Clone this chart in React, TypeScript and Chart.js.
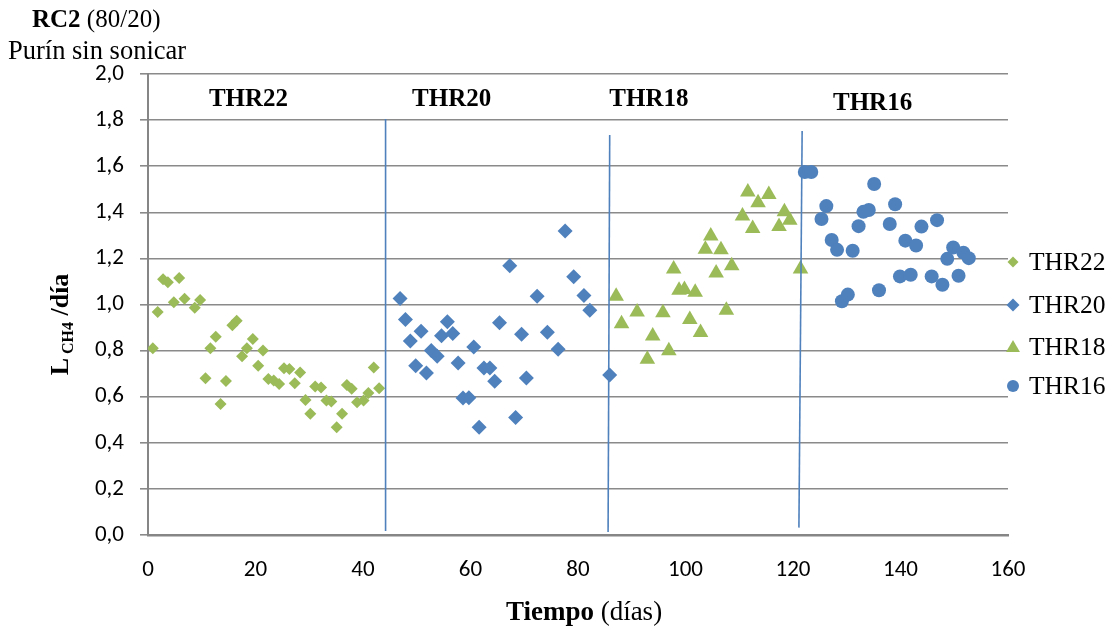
import React, { useEffect, useRef } from 'react';
import { Chart, registerables } from 'chart.js';

Chart.register(...registerables);

// ---- Data ----
const thr22X = [0.9, 1.8, 2.8, 3.7, 4.8, 5.8, 6.8, 8.7, 9.7, 10.7, 11.6, 12.6, 13.5, 14.5, 15.7, 16.5, 17.5, 18.4, 19.5, 20.5, 21.4, 22.4, 23.4, 24.4, 25.3, 26.3, 27.3, 28.3, 29.3, 30.2, 31.1, 32.2, 33.2, 34.1, 35.1, 36.1, 37.0, 37.9, 38.9, 40.1, 41.0, 42.0, 43.0];
const thr22Y = [0.81, 0.967, 1.11, 1.096, 1.01, 1.115, 1.025, 0.986, 1.02, 0.68, 0.81, 0.86, 0.568, 0.668, 0.91, 0.93, 0.775, 0.81, 0.85, 0.734, 0.80, 0.677, 0.67, 0.655, 0.723, 0.72, 0.658, 0.705, 0.586, 0.526, 0.644, 0.64, 0.583, 0.579, 0.468, 0.526, 0.651, 0.634, 0.576, 0.583, 0.616, 0.727, 0.637];

const thr20X = [46.9, 47.9, 48.8, 49.8, 50.8, 51.8, 52.7, 53.8, 54.6, 55.7, 56.7, 57.7, 58.6, 59.7, 60.6, 61.6, 62.5, 63.6, 64.5, 65.4, 67.3, 68.4, 69.5, 70.4, 72.4, 74.3, 76.3, 77.6, 79.2, 81.1, 82.2, 85.9];
const thr20Y = [1.026, 0.935, 0.842, 0.734, 0.884, 0.703, 0.80, 0.775, 0.864, 0.925, 0.874, 0.746, 0.594, 0.595, 0.816, 0.468, 0.724, 0.724, 0.667, 0.921, 1.168, 0.51, 0.871, 0.681, 1.036, 0.88, 0.806, 1.319, 1.12, 1.039, 0.975, 0.694];

const thr18X = [87.1, 88.1, 91.0, 92.9, 93.9, 95.8, 96.9, 97.8, 98.8, 99.8, 100.8, 101.8, 102.8, 103.7, 104.7, 105.7, 106.6, 107.6, 108.6, 110.6, 111.6, 112.5, 113.5, 115.5, 117.4, 118.4, 119.4, 121.4];
const thr18Y = [1.036, 0.917, 0.967, 0.763, 0.863, 0.964, 0.799, 1.154, 1.062, 1.065, 0.935, 1.053, 0.878, 1.24, 1.297, 1.137, 1.237, 0.975, 1.168, 1.384, 1.488, 1.33, 1.441, 1.477, 1.338, 1.402, 1.366, 1.154];

const thr16X = [122.2, 123.4, 125.3, 126.2, 127.2, 128.2, 129.1, 130.2, 131.1, 132.2, 133.1, 134.1, 135.1, 136.0, 138.0, 139.0, 139.9, 140.9, 141.9, 142.9, 143.9, 145.8, 146.8, 147.8, 148.7, 149.8, 150.8, 151.7, 152.7];
const thr16Y = [1.575, 1.575, 1.371, 1.427, 1.28, 1.237, 1.014, 1.043, 1.233, 1.34, 1.402, 1.41, 1.523, 1.062, 1.349, 1.435, 1.122, 1.277, 1.129, 1.256, 1.338, 1.122, 1.366, 1.086, 1.198, 1.247, 1.125, 1.225, 1.201];

// Phase separator lines: [x top, y top, x bottom, y bottom]
const separator1 = [44.2, 1.805, 44.2, 0.017];
const separator2 = [85.9, 1.735, 85.6, 0.013];
const separator3 = [121.7, 1.753, 121.1, 0.032];

const seriesNames = ['THR22', 'THR20', 'THR18', 'THR16'];
const phaseLabels = ['THR22', 'THR20', 'THR18', 'THR16'];
const phaseLabelX = [18.7, 56.5, 93.2, 134.8];

const xMin = 0, xMax = 160, xStep = 20;
const yMin = 0, yMax = 2, yStep = 0.2;

const GREEN = '#9BBB59';
const BLUE = '#4F81BD';
const serif = "'Liberation Serif', 'Times New Roman', Times, serif";
const sans = "Carlito, Calibri, 'Liberation Sans', Arial, sans-serif";

const zip = (xs: number[], ys: number[]) => xs.map((x, i) => ({ x, y: ys[i] }));
const sep = (s: number[]) => [{ x: s[0], y: s[1] }, { x: s[2], y: s[3] }];

type Run = { text: string; font: string; dy?: number };
function runsWidth(ctx: CanvasRenderingContext2D, runs: Run[]) {
  let w = 0;
  for (const r of runs) { ctx.font = r.font; w += ctx.measureText(r.text).width; }
  return w;
}
function drawRuns(ctx: CanvasRenderingContext2D, runs: Run[], x: number, y: number) {
  let cx = x;
  for (const r of runs) {
    ctx.font = r.font;
    ctx.fillText(r.text, cx, y + (r.dy || 0));
    cx += ctx.measureText(r.text).width;
  }
}

function marker(ctx: CanvasRenderingContext2D, style: string, x: number, y: number, r: number, color: string) {
  ctx.fillStyle = color;
  ctx.beginPath();
  if (style === 'rectRot') {
    ctx.moveTo(x, y - r); ctx.lineTo(x + r, y); ctx.lineTo(x, y + r); ctx.lineTo(x - r, y); ctx.closePath();
  } else if (style === 'triangle') {
    ctx.moveTo(x, y - r);
    ctx.lineTo(x + r * Math.sin(Math.PI / 3), y + r / 2);
    ctx.lineTo(x - r * Math.sin(Math.PI / 3), y + r / 2);
    ctx.closePath();
  } else {
    ctx.arc(x, y, r, 0, Math.PI * 2);
  }
  ctx.fill();
}

const textPlugin = {
  id: 'customText',
  afterDraw(chart: any) {
    const ctx: CanvasRenderingContext2D = chart.ctx;
    const xs = chart.scales.x;
    const ys = chart.scales.y;
    ctx.save();
    ctx.fillStyle = '#000';
    ctx.textBaseline = 'alphabetic';
    ctx.textAlign = 'left';

    // Header
    drawRuns(ctx, [
      { text: 'RC2', font: `bold 25px ${serif}` },
      { text: ' (80/20)', font: `25px ${serif}` },
    ], 32, 27);
    ctx.font = `26.5px ${serif}`;
    ctx.fillText('Purín sin sonicar', 8, 59);

    // Phase labels
    ctx.font = `bold 25px ${serif}`;
    ctx.textAlign = 'center';
    phaseLabels.forEach((t, i) => {
      const px = xs.getPixelForValue(phaseLabelX[i]);
      const py = i === 3 ? 110 : 106;
      ctx.fillText(t, px, py);
    });

    // Legend
    const legendStyles = ['rectRot', 'rectRot', 'triangle', 'circle'];
    const legendColors = [GREEN, BLUE, GREEN, BLUE];
    const legendR = [5.5, 6.5, 8, 6];
    const legendY = [262, 305, 347, 386];
    seriesNames.forEach((n, i) => {
      marker(ctx, legendStyles[i], 1013, legendY[i] + (legendStyles[i] === 'triangle' ? 1 : 0), legendR[i], legendColors[i]);
      ctx.fillStyle = '#000';
      ctx.font = `25.5px ${serif}`;
      ctx.textAlign = 'left';
      ctx.textBaseline = 'middle';
      ctx.fillText(n, 1029, legendY[i] + 1);
    });
    ctx.textBaseline = 'alphabetic';

    // X title
    const xRuns: Run[] = [
      { text: 'Tiempo', font: `bold 27px ${serif}` },
      { text: ' (días)', font: `27px ${serif}` },
    ];
    const xw = runsWidth(ctx, xRuns);
    const xc = (chart.chartArea.left + chart.chartArea.right) / 2 + 6;
    drawRuns(ctx, xRuns, xc - xw / 2, 620);

    // Y title (rotated)
    const yRuns: Run[] = [
      { text: 'L', font: `bold 26px ${serif}` },
      { text: ' CH4', font: `bold 16px ${serif}`, dy: 5 },
      { text: ' /día', font: `bold 26px ${serif}` },
    ];
    const yw = runsWidth(ctx, yRuns);
    const yc = (ys.top + ys.bottom) / 2 + 20;
    ctx.translate(68, yc);
    ctx.rotate(-Math.PI / 2);
    drawRuns(ctx, yRuns, -yw / 2, 0);
    ctx.restore();
  },
};

export default function App() {
  const ref = useRef<HTMLCanvasElement | null>(null);
  useEffect(() => {
    if (!ref.current) return;
    const lineDs = (s: number[]) => ({
      type: 'line' as const,
      label: '',
      data: sep(s),
      borderColor: BLUE,
      borderWidth: 1.6,
      pointRadius: 0,
      showLine: true,
      fill: false,
    });
    const chart = new Chart(ref.current, {
      type: 'scatter',
      data: {
        datasets: [
          lineDs(separator1) as any,
          lineDs(separator2) as any,
          lineDs(separator3) as any,
          { label: seriesNames[0], data: zip(thr22X, thr22Y), pointStyle: 'rectRot', pointRadius: 6, backgroundColor: GREEN, borderColor: GREEN, borderWidth: 0 },
          { label: seriesNames[1], data: zip(thr20X, thr20Y), pointStyle: 'rectRot', pointRadius: 7.5, backgroundColor: BLUE, borderColor: BLUE, borderWidth: 0 },
          { label: seriesNames[2], data: zip(thr18X, thr18Y), pointStyle: 'triangle', pointRadius: 9, backgroundColor: GREEN, borderColor: GREEN, borderWidth: 0 },
          { label: seriesNames[3], data: zip(thr16X, thr16Y), pointStyle: 'circle', pointRadius: 7, backgroundColor: BLUE, borderColor: BLUE, borderWidth: 0 },
        ],
      },
      options: {
        animation: false,
        responsive: false,
        events: [],
        layout: { padding: { left: 0, top: 74, right: 109, bottom: 0 } },
        plugins: {
          legend: { display: false },
          tooltip: { enabled: false },
          title: { display: false },
        },
        scales: {
          x: {
            type: 'linear',
            min: xMin,
            max: xMax,
            ticks: { stepSize: xStep, color: '#000', font: { family: sans, size: 23 }, padding: 21 },
            grid: { display: true, drawOnChartArea: false, drawTicks: false },
            border: { display: true, color: '#868686', width: 2.5 },
            afterFit: (s: any) => { s.height = 98; },
          },
          y: {
            type: 'linear',
            min: yMin,
            max: yMax,
            ticks: {
              stepSize: yStep,
              color: '#000',
              font: { family: sans, size: 23 },
              padding: 16,
              callback: (v: any) => Number(v).toFixed(1).replace('.', ','),
            },
            grid: { color: '#8a8a8a', lineWidth: 1.6, tickLength: 8, drawTicks: true },
            border: { display: true, color: '#868686', width: 2 },
            afterFit: (s: any) => { s.width = 148; },
          },
        },
      },
      plugins: [textPlugin],
    });
    return () => chart.destroy();
  }, []);
  return (
    <div style={{ position: 'fixed', left: 0, top: 0, width: 1117, height: 633, background: '#fff' }}>
      <canvas ref={ref} width={1117} height={633} style={{ display: 'block' }} />
    </div>
  );
}
